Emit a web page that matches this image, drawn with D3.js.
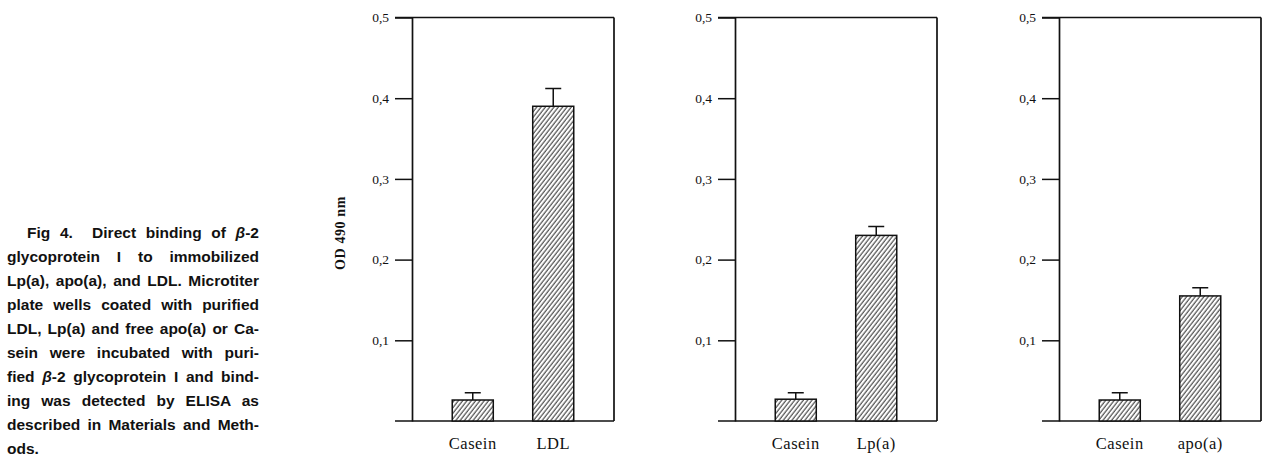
<!DOCTYPE html>
<html>
<head>
<meta charset="utf-8">
<script src="https://cdn.jsdelivr.net/npm/d3@7"></script>
<style>
body { margin: 0; background: #fff; }
#caption {
	position: absolute; left: 7px; top: 221px; width: 252px;
	font: bold 15.5px "Liberation Sans", Arial, sans-serif;
	line-height: 24px; color: #111;
}
#caption div { text-align: justify; text-align-last: justify; height: 24px; overflow: visible; }
#caption div.first { padding-left: 20px; }
#caption div.last { text-align-last: left; }
</style>
</head>
<body>
<div id="caption"></div>
<div id="chart"></div>
<script>
// data
const ligands = ["LDL", "Lp(a)", "apo(a)"]
const caseinMeans = [0.026, 0.027, 0.026]
const caseinErrors = [0.009, 0.008, 0.009]
const ligandMeans = [0.39, 0.23, 0.155]
const ligandErrors = [0.022, 0.011, 0.01]
const tickValues = [0.1, 0.2, 0.3, 0.4, 0.5]
const tickLabels = ["0,1", "0,2", "0,3", "0,4", "0,5"]
const captionLines = [
	"Fig 4.&nbsp; Direct binding of <i>β</i>-2",
	"glycoprotein I to immobilized",
	"Lp(a), apo(a), and LDL. Microtiter",
	"plate wells coated with purified",
	"LDL, Lp(a) and free apo(a) or Ca-",
	"sein were incubated with puri-",
	"fied <i>β</i>-2 glycoprotein I and bind-",
	"ing was detected by ELISA as",
	"described in Materials and Meth-",
	"ods."
]

const WIDTH = 1262, HEIGHT = 455
const PANEL_X = [412, 735, 1059]
const PLOT_W = 202
const BASE = 421, TOP = 17.5
const TICK = 17
const SERIF = '"Liberation Serif", "Times New Roman", serif'

// caption
d3.select("#caption").selectAll("div")
	.data(captionLines)
	.enter().append("div")
	.attr("class", (d, i) => i === 0 ? "first" : (i === captionLines.length - 1 ? "last" : null))
	.html(d => d)

const svg = d3.select("#chart").append("svg")
	.attr("width", WIDTH)
	.attr("height", HEIGHT)
	.style("position", "absolute").style("left", 0).style("top", 0)

// hatch pattern for the bars
svg.append("defs").append("pattern")
	.attr("id", "hatch")
	.attr("patternUnits", "userSpaceOnUse")
	.attr("width", 3.4).attr("height", 10)
	.attr("patternTransform", "rotate(38)")
	.call(p => p.append("rect").attr("width", 3.4).attr("height", 10).attr("fill", "#fff"))
	.append("line")
	.attr("x1", 1).attr("y1", 0).attr("x2", 1).attr("y2", 10)
	.attr("stroke", "#111").attr("stroke-width", 0.9)

const y = d3.scaleLinear().domain([0, 0.5]).range([BASE, TOP])

// y axis title
svg.append("text")
	.attr("transform", `translate(345, 233) rotate(-90)`)
	.attr("text-anchor", "middle")
	.attr("font-family", SERIF)
	.attr("font-weight", "bold")
	.attr("font-size", "14px")
	.attr("letter-spacing", "0.6px")
	.attr("fill", "#111")
	.text("OD  490 nm")

ligands.forEach((lig, i) => {
	const g = svg.append("g").attr("transform", `translate(${PANEL_X[i]}, 0)`)

	const x = d3.scaleBand()
		.domain(["Casein", lig])
		.range([0, PLOT_W])
		.paddingInner(0.49)
		.paddingOuter(0.5)

	// Y Axis
	const yAxisCall = d3.axisLeft(y)
		.tickValues(tickValues)
		.tickFormat((d, k) => tickLabels[k])
		.tickSize(TICK)
		.tickSizeOuter(0)
		.tickPadding(6)
	const ax = g.append("g").call(yAxisCall)
	ax.select(".domain").attr("stroke", "#111").attr("stroke-width", 1.7)
	ax.selectAll(".tick line").attr("stroke", "#111").attr("stroke-width", 1.5)
	ax.selectAll(".tick text")
		.attr("font-family", SERIF)
		.attr("font-size", "13.5px")
		.attr("fill", "#111")

	// frame: top line, base line, right border
	g.append("line")
		.attr("x1", -TICK).attr("x2", PLOT_W)
		.attr("y1", y(0.5)).attr("y2", y(0.5))
		.attr("stroke", "#111").attr("stroke-width", 1.7)
	g.append("line")
		.attr("x1", -TICK).attr("x2", PLOT_W)
		.attr("y1", y(0)).attr("y2", y(0))
		.attr("stroke", "#111").attr("stroke-width", 1.7)
	g.append("line")
		.attr("x1", PLOT_W).attr("x2", PLOT_W)
		.attr("y1", y(0.5)).attr("y2", y(0))
		.attr("stroke", "#111").attr("stroke-width", 1.7)

	const data = [
		{ cat: "Casein", v: caseinMeans[i], e: caseinErrors[i] },
		{ cat: lig, v: ligandMeans[i], e: ligandErrors[i] }
	]

	// error bars
	const cx = d => x(d.cat) + x.bandwidth() / 2
	g.selectAll(".err")
		.data(data)
		.enter().append("path")
		.attr("class", "err")
		.attr("d", d => `M${cx(d)},${y(d.v)}V${y(d.v + d.e)}M${cx(d) - 8},${y(d.v + d.e)}H${cx(d) + 8}`)
		.attr("fill", "none")
		.attr("stroke", "#111")
		.attr("stroke-width", 1.5)

	// bars
	g.selectAll("rect.bar")
		.data(data)
		.enter().append("rect")
		.attr("class", "bar")
		.attr("x", d => x(d.cat))
		.attr("width", x.bandwidth())
		.attr("y", d => y(d.v))
		.attr("height", d => y(0) - y(d.v))
		.attr("fill", "url(#hatch)")
		.attr("stroke", "#111")
		.attr("stroke-width", 1.5)

	// category labels
	g.selectAll(".cat")
		.data(data)
		.enter().append("text")
		.attr("class", "cat")
		.attr("x", cx)
		.attr("y", 449)
		.attr("text-anchor", "middle")
		.attr("font-family", SERIF)
		.attr("font-size", "16.5px")
		.attr("letter-spacing", "0.5px")
		.attr("fill", "#111")
		.text(d => d.cat)
})
</script>
</body>
</html>
